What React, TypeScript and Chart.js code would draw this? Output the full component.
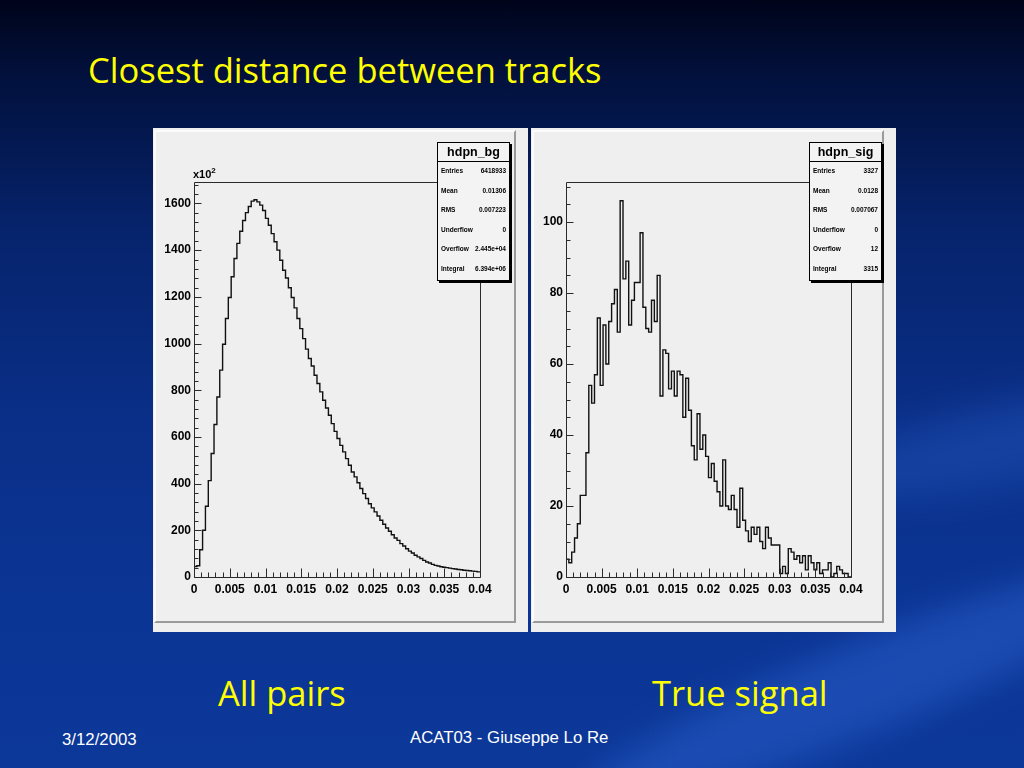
import React, { useEffect, useRef } from 'react';
import { Chart, registerables } from 'chart.js';

Chart.register(...registerables);

// ---------- data ----------
const X_MIN = 0;
const X_MAX = 0.04;
const BIN_WIDTH = 0.0004;
const xTickValues = [0, 0.005, 0.01, 0.015, 0.02, 0.025, 0.03, 0.035, 0.04];
const xTickLabels = ['0', '0.005', '0.01', '0.015', '0.02', '0.025', '0.03', '0.035', '0.04'];

// all pairs, in units of 10^2 entries per bin
const bgCounts = [
  45, 48, 117, 200, 303, 413, 529, 653, 771, 886, 997, 1107, 1197, 1286, 1364, 1429, 1481, 1527, 1561, 1587,
  1610, 1616, 1607, 1593, 1570, 1536, 1507, 1471, 1436, 1400, 1357, 1314, 1281, 1239, 1197, 1153, 1107, 1064, 1021, 976,
  936, 904, 864, 829, 793, 757, 724, 693, 657, 624, 593, 564, 536, 507, 479, 450, 429, 404, 379, 357,
  336, 314, 296, 279, 261, 243, 226, 210, 196, 181, 167, 157, 143, 133, 121, 111, 103, 93, 86, 79,
  71, 64, 60, 54, 50, 47, 44, 42, 40, 38, 36, 34, 32, 31, 29, 28, 27, 25, 24, 22,
];
const bgYTickValues = [0, 200, 400, 600, 800, 1000, 1200, 1400, 1600];
const bgYTickLabels = ['0', '200', '400', '600', '800', '1000', '1200', '1400', '1600'];
const bgYMax = 1692;

// true signal, entries per bin
const sigCounts = [
  5, 4, 7, 11, 15, 23, 23, 35, 54, 49, 57, 73, 54, 71, 60, 72, 77, 81, 69, 106,
  84, 89, 71, 78, 83, 83, 97, 76, 70, 69, 78, 72, 85, 51, 64, 63, 53, 58, 51, 58,
  57, 45, 56, 47, 37, 33, 46, 36, 40, 34, 28, 32, 27, 24, 20, 33, 20, 19, 23, 19,
  14, 25, 16, 13, 10, 14, 12, 14, 10, 8, 14, 11, 9, 9, 9, 1, 3, 1, 8, 7,
  5, 6, 4, 6, 2, 6, 4, 2, 4, 1, 2, 2, 4, 0, 1, 3, 2, 1, 1, 0,
];
const sigYTickValues = [0, 20, 40, 60, 80, 100];
const sigYTickLabels = ['0', '20', '40', '60', '80', '100'];
const sigYMax = 111.3;

const statLabels = ['Entries', 'Mean', 'RMS', 'Underflow', 'Overflow', 'Integral'];
const bgStats = ['6418933', '0.01306', '0.007223', '0', '2.445e+04', '6.394e+06'];
const sigStats = ['3327', '0.0128', '0.007067', '0', '12', '3315'];

// ---------- plugin: ROOT style frame + inward ticks ----------
const rootFrame = {
  id: 'rootFrame',
  afterDatasetsDraw(chart: any, _args: any, opts: any) {
    const { ctx, chartArea: a } = chart;
    const xs = chart.scales.x;
    const ys = chart.scales.y;
    const L = Math.round(a.left) + 0.5;
    const R = Math.round(a.right) + 0.5;
    const T = Math.round(a.top) + 0.5;
    const B = Math.round(a.bottom) + 0.5;
    ctx.save();
    ctx.strokeStyle = '#2a2a2a';
    ctx.lineWidth = 1;
    ctx.beginPath();
    ctx.moveTo(L, T);
    ctx.lineTo(R, T);
    ctx.lineTo(R, B);
    ctx.lineTo(L, B);
    ctx.closePath();
    const nx = Math.round((xs.max - xs.min) / opts.xMinor);
    for (let i = 0; i <= nx; i++) {
      const px = Math.round(xs.getPixelForValue(xs.min + i * opts.xMinor)) + 0.5;
      const len = i % opts.xPerMajor === 0 ? 9 : 5;
      ctx.moveTo(px, B);
      ctx.lineTo(px, B - len);
    }
    const ny = Math.floor(ys.max / opts.yMinor + 1e-6);
    for (let i = 0; i <= ny; i++) {
      const py = Math.round(ys.getPixelForValue(i * opts.yMinor)) + 0.5;
      const len = i % opts.yPerMajor === 0 ? 7 : 4;
      ctx.moveTo(L, py);
      ctx.lineTo(L + len, py);
    }
    ctx.stroke();
    ctx.restore();
  },
};

const TICK_FONT = { family: '"Liberation Sans", Arial, sans-serif', size: 12, weight: 'bold' as const };
const X_AXIS_HEIGHT = 55;
const PAD_TOP = 54;

type HistProps = {
  counts: number[];
  yMax: number;
  yTickValues: number[];
  yTickLabels: string[];
  yMinor: number;
  yPerMajor: number;
  width: number;
  height: number;
  yAxisWidth: number;
  padRight: number;
};

function Histogram(p: HistProps) {
  const ref = useRef<HTMLCanvasElement | null>(null);
  useEffect(() => {
    if (!ref.current) return;
    const pts = [{ x: X_MIN, y: 0 }];
    p.counts.forEach((c, i) => pts.push({ x: X_MIN + i * BIN_WIDTH, y: c }));
    pts.push({ x: X_MAX, y: p.counts[p.counts.length - 1] });
    const chart = new Chart(ref.current, {
      type: 'line',
      data: {
        datasets: [
          {
            data: pts,
            borderColor: '#111',
            borderWidth: 1.4,
            pointRadius: 0,
            fill: false,
            stepped: true,
            tension: 0,
          },
        ],
      },
      plugins: [rootFrame],
      options: {
        animation: false,
        responsive: false,
        devicePixelRatio: 1,
        parsing: false,
        layout: { padding: { left: 0, top: PAD_TOP, right: p.padRight, bottom: 0 } },
        plugins: {
          legend: { display: false },
          tooltip: { enabled: false },
          rootFrame: { xMinor: 0.001, xPerMajor: 5, yMinor: p.yMinor, yPerMajor: p.yPerMajor },
        } as any,
        scales: {
          x: {
            type: 'linear',
            min: X_MIN,
            max: X_MAX,
            grid: { display: false, drawTicks: false },
            border: { display: false },
            afterBuildTicks: (s: any) => {
              s.ticks = xTickValues.map((v) => ({ value: v }));
            },
            afterFit: (s: any) => {
              s.height = X_AXIS_HEIGHT;
            },
            ticks: {
              autoSkip: false,
              maxRotation: 0,
              padding: 5,
              color: '#000',
              font: TICK_FONT,
              callback: (_v: any, i: number) => xTickLabels[i],
            },
          },
          y: {
            type: 'linear',
            min: 0,
            max: p.yMax,
            grid: { display: false, drawTicks: false },
            border: { display: false },
            afterBuildTicks: (s: any) => {
              s.ticks = p.yTickValues.map((v) => ({ value: v }));
            },
            afterFit: (s: any) => {
              s.width = p.yAxisWidth;
            },
            ticks: {
              autoSkip: false,
              padding: 3,
              color: '#000',
              font: TICK_FONT,
              callback: (_v: any, i: number) => p.yTickLabels[i],
            },
          },
        },
      } as any,
    });
    return () => chart.destroy();
  }, []);
  return (
    <canvas
      ref={ref}
      width={p.width}
      height={p.height}
      style={{ position: 'absolute', left: 0, top: 0, width: p.width, height: p.height }}
    />
  );
}

function StatsBox({ left, title, values }: { left: number; title: string; values: string[] }) {
  return (
    <div
      style={{
        position: 'absolute',
        left,
        top: 14,
        width: 71,
        height: 137,
        background: '#f3f3f3',
        border: '1px solid #000',
        boxShadow: '2px 2px 0 #000',
        fontFamily: '"Liberation Sans", Arial, sans-serif',
        color: '#000',
        zIndex: 2,
      }}
    >
      <div
        style={{
          height: 18,
          lineHeight: '18px',
          borderBottom: '1px solid #000',
          textAlign: 'center',
          fontWeight: 'bold',
          fontSize: 12.5,
        }}
      >
        {title}
      </div>
      {statLabels.map((lab, i) => (
        <div
          key={lab}
          style={{
            position: 'absolute',
            left: 3,
            right: 3,
            top: 23 + i * 19.6,
            height: 10,
            lineHeight: '10px',
            fontSize: 6.5,
            fontWeight: 'bold',
            display: 'flex',
            justifyContent: 'space-between',
          }}
        >
          <span>{lab}</span>
          <span>{values[i]}</span>
        </div>
      ))}
    </div>
  );
}

function Panel({ left, width, children }: { left: number; width: number; children: React.ReactNode }) {
  return (
    <div
      style={{
        position: 'absolute',
        left,
        top: 128,
        width,
        height: 504,
        background: '#efefef',
      }}
    >
      <div
        style={{
          position: 'absolute',
          left: 1,
          top: 2,
          width: width - 13,
          height: 493,
          borderLeft: '2px solid #fbfbfb',
          borderTop: '2px solid #fbfbfb',
          borderRight: '2px solid #9a9a9a',
          borderBottom: '2px solid #9a9a9a',
          boxSizing: 'border-box',
        }}
      />
      {children}
    </div>
  );
}

const yellowText: React.CSSProperties = {
  position: 'absolute',
  color: '#ffff00',
  fontFamily: '"Comic Sans MS", "Open Sans", sans-serif',
  whiteSpace: 'nowrap',
  lineHeight: '40px',
};

const footText: React.CSSProperties = {
  position: 'absolute',
  color: '#ffffff',
  fontFamily: '"Liberation Sans", Arial, sans-serif',
  fontSize: 16.8,
  lineHeight: '20px',
  whiteSpace: 'nowrap',
};

export default function App() {
  return (
    <div
      style={{
        position: 'absolute',
        left: 0,
        top: 0,
        width: 1024,
        height: 768,
        overflow: 'hidden',
        background: 'linear-gradient(180deg, #00041a 0%, #02113d 10%, #06236c 30%, #0a2f88 55%, #0b3595 80%, #0c3899 100%)',
      }}
    >
      <div
        style={{
          position: 'absolute',
          left: 820,
          top: 400,
          width: 420,
          height: 80,
          borderRadius: '50%',
          background: 'rgba(40, 95, 200, 0.35)',
          filter: 'blur(18px)',
          transform: 'rotate(-12deg)',
        }}
      />
      <div
        style={{
          position: 'absolute',
          left: 560,
          top: 640,
          width: 620,
          height: 90,
          borderRadius: '50%',
          background: 'rgba(45, 100, 210, 0.45)',
          filter: 'blur(16px)',
          transform: 'rotate(-22deg)',
        }}
      />

      <div style={{ ...yellowText, left: 88, top: 50, fontSize: 34.5 }}>Closest distance between tracks</div>

      <Panel left={153} width={375}>
        <Histogram
          counts={bgCounts}
          yMax={bgYMax}
          yTickValues={bgYTickValues}
          yTickLabels={bgYTickLabels}
          yMinor={40}
          yPerMajor={5}
          width={375}
          height={504}
          yAxisWidth={41}
          padRight={48}
        />
        <div
          style={{
            position: 'absolute',
            left: 40,
            top: 40,
            fontFamily: '"Liberation Sans", Arial, sans-serif',
            fontWeight: 'bold',
            fontSize: 11,
            lineHeight: '12px',
            color: '#000',
          }}
        >
          x10
          <span style={{ fontSize: 8, position: 'relative', top: -5 }}>2</span>
        </div>
        <StatsBox left={284} title="hdpn_bg" values={bgStats} />
      </Panel>

      <Panel left={531} width={365}>
        <Histogram
          counts={sigCounts}
          yMax={sigYMax}
          yTickValues={sigYTickValues}
          yTickLabels={sigYTickLabels}
          yMinor={5}
          yPerMajor={4}
          width={365}
          height={504}
          yAxisWidth={35}
          padRight={45}
        />
        <StatsBox left={278} title="hdpn_sig" values={sigStats} />
      </Panel>

      <div style={{ ...yellowText, left: 218, top: 673, fontSize: 34.5 }}>All pairs</div>
      <div style={{ ...yellowText, left: 652, top: 673, fontSize: 34.5 }}>True signal</div>

      <div style={{ ...footText, left: 62, top: 730 }}>3/12/2003</div>
      <div style={{ ...footText, left: 410, top: 728 }}>ACAT03 - Giuseppe Lo Re</div>
    </div>
  );
}
